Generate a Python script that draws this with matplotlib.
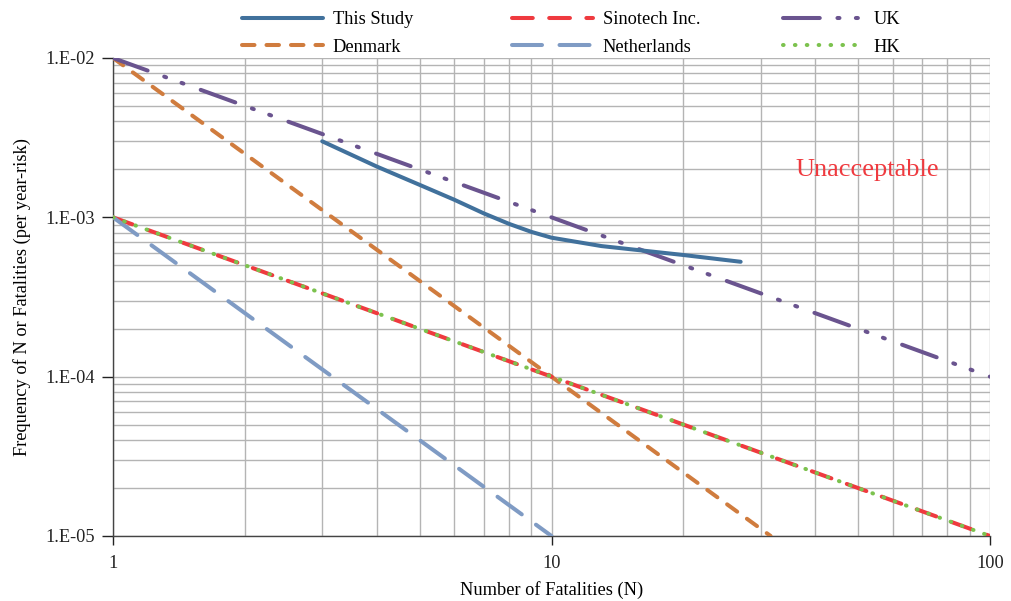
"""F-N curve: societal risk of this study against international criteria."""

import matplotlib.pyplot as plt
from matplotlib.ticker import FixedLocator, FuncFormatter, LogLocator, NullFormatter
import numpy as np

plt.rcParams["font.family"] = ["Liberation Serif", "DejaVu Serif"]

# this study's F-N curve
study_n = [3, 4, 5, 6, 7, 8, 9, 10, 13, 20, 27]
study_f = [3.0e-3, 2.08e-3, 1.60e-3, 1.29e-3, 1.06e-3, 9.1e-4, 8.1e-4, 7.45e-4, 6.6e-4, 5.8e-4, 5.26e-4]

# criterion lines, given by their end points
denmark_n = [1, 31.6]
denmark_f = [1e-2, 1e-5]
sinotech_n = [1, 100]
sinotech_f = [1e-3, 1e-5]
netherlands_n = [1, 10]
netherlands_f = [1e-3, 1e-5]
uk_n = [1, 100]
uk_f = [1e-2, 1e-4]
hk_n = [1, 100]
hk_f = [1e-3, 1e-5]

LW = 2.9
FS = 13.2

fig = plt.figure(figsize=(10.11, 6.01), dpi=100)
ax = fig.add_axes([0.1118, 0.1082, 0.9792 - 0.1118, 0.9035 - 0.1082])

ax.set_xscale("log")
ax.set_yscale("log")
ax.set_xlim(1, 100)
ax.set_ylim(1e-5, 1e-2)

h_study, = ax.plot(study_n, study_f, color="#41719c", lw=LW, solid_capstyle="round",
                   label="This Study", zorder=5)
h_den, = ax.plot(denmark_n, denmark_f, color="#d07c3e", lw=LW, dashes=(3.1, 2.98),
                 dash_capstyle="round", label="Denmark", zorder=4)
h_sino, = ax.plot(sinotech_n, sinotech_f, color="#ef3a3f", lw=LW, dashes=(5.16, 4.07),
                  dash_capstyle="round", label="Sinotech Inc.", zorder=4)
h_neth, = ax.plot(netherlands_n, netherlands_f, color="#7f9bc4", lw=LW, dashes=(7.45, 4.35),
                  dash_capstyle="round", label="Netherlands", zorder=4)
h_uk, = ax.plot(uk_n, uk_f, color="#6a548f", lw=LW, dashes=(9.13, 4.39, 0.5, 4.07, 0.5, 4.57),
                dash_capstyle="round", label="UK", zorder=4)
h_hk, = ax.plot(hk_n, hk_f, color="#7cc24e", lw=LW, dashes=(0.15, 2.8),
                dash_capstyle="round", label="HK", zorder=6)

# log grid with major and minor lines
ax.xaxis.set_major_locator(FixedLocator([1, 10, 100]))
ax.xaxis.set_minor_locator(LogLocator(base=10, subs=np.arange(2, 10)))
ax.yaxis.set_major_locator(FixedLocator([1e-5, 1e-4, 1e-3, 1e-2]))
ax.yaxis.set_minor_locator(LogLocator(base=10, subs=np.arange(2, 10)))
ax.xaxis.set_major_formatter(FuncFormatter(lambda v, _: f"{v:g}"))
ax.yaxis.set_major_formatter(FuncFormatter(lambda v, _: f"1.E-{int(round(-np.log10(v))):02d}"))
ax.xaxis.set_minor_formatter(NullFormatter())
ax.yaxis.set_minor_formatter(NullFormatter())
ax.grid(which="both", color="#b4b4b4", lw=1.0)
ax.set_axisbelow(True)

ax.tick_params(which="major", direction="out", width=1, labelsize=FS, colors="#222222")
ax.tick_params(axis="x", which="major", length=6.5, pad=7)
ax.tick_params(axis="y", which="major", length=8, pad=5)
ax.tick_params(which="minor", length=0)
for side in ("top", "right"):
    ax.spines[side].set_visible(False)
for side in ("left", "bottom"):
    ax.spines[side].set_color("#444444")
    ax.spines[side].set_linewidth(1.0)

ax.set_xlabel("Number of Fatalities (N)", fontsize=FS, labelpad=7)
ax.set_ylabel("Frequency of N or Fatalities (per year-risk)", fontsize=FS, labelpad=10)

ax.text(0.778, 0.766, "Unacceptable", transform=ax.transAxes, color="#ef3a3f",
        fontsize=19, va="center")

# three legend columns of equal width
columns = [(h_study, h_den), (h_sino, h_neth), (h_uk, h_hk)]
col_left = [242, 512, 783]
for pair, left in zip(columns, col_left):
    fig.legend(handles=list(pair), labels=[h.get_label() for h in pair],
               loc="upper left", bbox_to_anchor=(left / 1011, 0.981), frameon=False,
               fontsize=FS, handlelength=4.4, handletextpad=0.55, labelspacing=0.55,
               borderpad=0, borderaxespad=0)

fig.savefig("out.png", dpi=100)
